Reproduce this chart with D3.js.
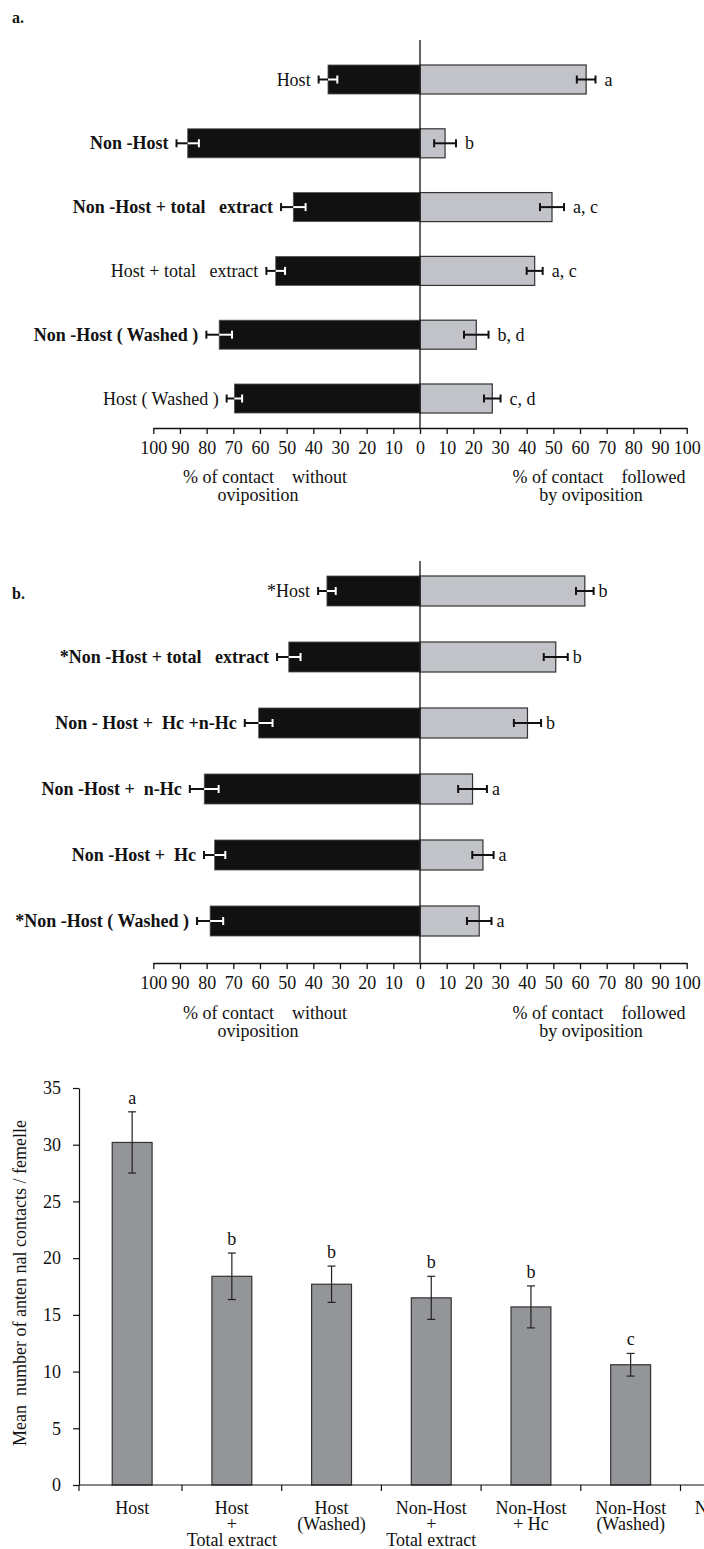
<!DOCTYPE html>
<html><head><meta charset="utf-8">
<script src="https://cdn.jsdelivr.net/npm/d3@7"></script>
<style>
body{margin:0;background:#fff;}
svg{display:block;font-family:"Liberation Serif","Times New Roman",serif;}
text{white-space:pre;}
</style></head><body>
<svg id="chart" width="704" height="1549"></svg>
<script>
// ---------- Panel a data ----------
const catsA = ["Host", "Non -Host", "Non -Host + total   extract", "Host + total   extract", "Non -Host ( Washed )", "Host ( Washed )"];
const withoutA = [34.5, 87.1, 47.5, 54.1, 75.3, 69.6];
const withoutErrA = [3.5, 4.2, 4.6, 3.5, 4.8, 2.9];
const followedA = [62.3, 9.4, 49.5, 43.0, 21.1, 27.1];
const followedErrA = [3.5, 4.1, 4.5, 3.0, 4.6, 3.1];
const lettersA = ["a", "b", "a, c", "a, c", "b, d", "c, d"];

// ---------- Panel b data ----------
const catsB = ["*Host", "*Non -Host + total   extract", "Non - Host +  Hc +n-Hc", "Non -Host +  n-Hc", "Non -Host +  Hc", "*Non -Host ( Washed )"];
const withoutB = [34.9, 49.2, 60.5, 80.9, 77.0, 78.7];
const withoutErrB = [3.3, 4.4, 5.2, 5.4, 4.0, 4.9];
const followedB = [61.8, 50.9, 40.3, 19.7, 23.6, 22.2];
const followedErrB = [3.3, 4.5, 5.1, 5.4, 4.0, 4.6];
const lettersB = ["b", "b", "b", "a", "a", "a"];

// shared axis ticks for a and b
const tickValuesLeft = [10, 20, 30, 40, 50, 60, 70, 80, 90, 100];
const tickValuesRight = [0, 10, 20, 30, 40, 50, 60, 70, 80, 90, 100];
const titleLeft = ["% of contact    without", "oviposition"];
const titleRight = ["% of contact    followed", "by oviposition"];

// ---------- Panel c data ----------
const catsC = [["Host"], ["Host", "+", "Total extract"], ["Host", "(Washed)"], ["Non-Host", "+", "Total extract"], ["Non-Host", "+ Hc"], ["Non-Host", "(Washed)"], ["Non-Host"]];
const valuesC = [30.2, 18.4, 17.7, 16.5, 15.7, 10.6, null];
const errC = [2.7, 2.05, 1.6, 1.9, 1.85, 1.0, null];
const lettersC = ["a", "b", "b", "b", "b", "c", null];
const yTicksC = [0, 5, 10, 15, 20, 25, 30, 35];
const yTitleC = "Mean  number of anten nal contacts / femelle";

const svg = d3.select("#chart");
const FS = 18;

const xL = d3.scaleLinear().domain([0, 100]).range([420, 153.3]);
const xR = d3.scaleLinear().domain([0, 100]).range([420, 686.7]);

function diverging(p) {
  const g = svg.append("g");
  const n = p.cats.length;
  const y = d3.scaleBand().domain(p.cats)
    .range([p.y0, p.y0 + p.step * n]).paddingInner(0.545).paddingOuter(0.2725);
  const rows = p.cats.map((c, i) => ({c, wo: p.without[i], woE: p.withoutErr[i], fo: p.followed[i], foE: p.followedErr[i], l: p.letters[i]}));
  const cy = d => y(d.c) + y.bandwidth() / 2;
  const capH = 8;

  // right bars
  g.selectAll(".rb").data(rows).join("rect").attr("class", "rb")
    .attr("x", xR(0)).attr("y", d => y(d.c))
    .attr("width", d => xR(d.fo) - xR(0)).attr("height", y.bandwidth())
    .attr("fill", "#c1c3c9").attr("stroke", "#333").attr("stroke-width", 1.2);
  // left bars
  g.selectAll(".lb").data(rows).join("rect").attr("class", "lb")
    .attr("x", d => xL(d.wo)).attr("y", d => y(d.c))
    .attr("width", d => xL(0) - xL(d.wo)).attr("height", y.bandwidth())
    .attr("fill", "#111").attr("stroke", "#555").attr("stroke-width", 0.8);

  // center line
  g.append("line").attr("x1", xL(0)).attr("x2", xL(0))
    .attr("y1", p.lineTop).attr("y2", p.axisY)
    .attr("stroke", "#111").attr("stroke-width", 1.3);

  // left error bars: outer half black, inner half white
  const eb = g.selectAll(".leb").data(rows).join("g").attr("class", "leb");
  eb.append("line").attr("x1", d => xL(d.wo + d.woE)).attr("x2", d => xL(d.wo))
    .attr("y1", cy).attr("y2", cy).attr("stroke", "#111").attr("stroke-width", 2);
  eb.append("line").attr("x1", d => xL(d.wo + d.woE)).attr("x2", d => xL(d.wo + d.woE))
    .attr("y1", d => cy(d) - capH / 2).attr("y2", d => cy(d) + capH / 2).attr("stroke", "#111").attr("stroke-width", 2);
  eb.append("line").attr("x1", d => xL(d.wo)).attr("x2", d => xL(d.wo - d.woE))
    .attr("y1", cy).attr("y2", cy).attr("stroke", "#fff").attr("stroke-width", 2);
  eb.append("line").attr("x1", d => xL(d.wo - d.woE)).attr("x2", d => xL(d.wo - d.woE))
    .attr("y1", d => cy(d) - capH / 2).attr("y2", d => cy(d) + capH / 2).attr("stroke", "#fff").attr("stroke-width", 2);

  // right error bars
  const rb = g.selectAll(".reb").data(rows).join("g").attr("class", "reb");
  rb.append("line").attr("x1", d => xR(d.fo - d.foE)).attr("x2", d => xR(d.fo + d.foE))
    .attr("y1", cy).attr("y2", cy).attr("stroke", "#111").attr("stroke-width", 2);
  [d => xR(d.fo - d.foE), d => xR(d.fo + d.foE)].forEach(fx => {
    rb.append("line").attr("x1", fx).attr("x2", fx)
      .attr("y1", d => cy(d) - capH / 2).attr("y2", d => cy(d) + capH / 2)
      .attr("stroke", "#111").attr("stroke-width", 2);
  });

  // category labels
  g.selectAll(".cl").data(rows).join("text").attr("class", "cl")
    .attr("x", d => xL(d.wo + d.woE) - 8).attr("y", d => cy(d) + 6)
    .attr("text-anchor", "end").attr("font-size", FS).attr("fill", "#111")
    .attr("font-weight", d => d.c.includes("Non") ? "bold" : "normal")
    .text(d => d.c);

  // letters
  g.selectAll(".lt").data(rows).join("text").attr("class", "lt")
    .attr("x", d => xR(d.fo + d.foE) + p.letterGap).attr("y", d => cy(d) + 6)
    .attr("font-size", FS).attr("fill", "#111")
    .text(d => d.l);

  // axes
  const axL = d3.axisBottom(xL).tickValues(tickValuesLeft).tickSize(6).tickSizeOuter(0).tickPadding(7);
  const axR = d3.axisBottom(xR).tickValues(tickValuesRight).tickSize(6).tickSizeOuter(0).tickPadding(7);
  [axL, axR].forEach(ax => {
    const a = g.append("g").attr("transform", `translate(0,${p.axisY})`).call(ax);
    a.selectAll("path, line").attr("stroke", "#111").attr("stroke-width", 1.3);
    a.selectAll("text").attr("font-size", FS).attr("fill", "#111")
      .attr("font-family", "Liberation Serif, Times New Roman, serif");
  });

  // axis titles
  const tl = [{t: titleLeft, x: [265, 258]}, {t: titleRight, x: [599, 591]}];
  tl.forEach(o => {
    o.t.forEach((s, i) => {
      g.append("text").attr("x", o.x[i]).attr("y", p.titleY + i * 18 + 6)
        .attr("text-anchor", "middle").attr("font-size", FS).attr("fill", "#111").text(s);
    });
  });

  // panel label
  g.append("text").attr("x", 12).attr("y", p.labelY).attr("font-size", 16)
    .attr("font-weight", "bold").attr("fill", "#111").text(p.label);
}

diverging({cats: catsA, without: withoutA, withoutErr: withoutErrA, followed: followedA, followedErr: followedErrA,
  letters: lettersA, y0: 47.6, step: 63.8, lineTop: 40, axisY: 428, titleY: 477, label: "a.", labelY: 23, letterGap: 9});
diverging({cats: catsB, without: withoutB, withoutErr: withoutErrB, followed: followedB, followedErr: followedErrB,
  letters: lettersB, y0: 558, step: 66, lineTop: 561, axisY: 963, titleY: 1013, label: "b.", labelY: 599, letterGap: 5});

// ---------- Panel c ----------
(function () {
  const g = svg.append("g");
  const x0 = 82.3, step = 99.7;
  const idx = catsC.map((d, i) => i);
  const x = d3.scaleBand().domain(idx).range([x0, x0 + step * idx.length]).paddingInner(0.6).paddingOuter(0.3);
  const y = d3.scaleLinear().domain([0, 35]).range([1485, 1088]);
  const axisX = 79;

  const rows = idx.map(i => ({i, v: valuesC[i], e: errC[i], l: lettersC[i], lab: catsC[i]})).filter(d => d.v != null);

  g.selectAll(".bar").data(rows).join("rect").attr("class", "bar")
    .attr("x", d => x(d.i)).attr("y", d => y(d.v))
    .attr("width", x.bandwidth()).attr("height", d => y(0) - y(d.v))
    .attr("fill", "#939598").attr("stroke", "#333").attr("stroke-width", 1.2);

  const cx = d => x(d.i) + x.bandwidth() / 2;
  const eb = g.selectAll(".eb").data(rows).join("g").attr("class", "eb");
  eb.append("line").attr("x1", cx).attr("x2", cx).attr("y1", d => y(d.v + d.e)).attr("y2", d => y(d.v - d.e))
    .attr("stroke", "#222").attr("stroke-width", 1.2);
  [d => y(d.v + d.e), d => y(d.v - d.e)].forEach(fy => {
    eb.append("line").attr("x1", d => cx(d) - 4).attr("x2", d => cx(d) + 4).attr("y1", fy).attr("y2", fy)
      .attr("stroke", "#222").attr("stroke-width", 1.2);
  });
  g.selectAll(".let").data(rows).join("text").attr("class", "let")
    .attr("x", cx).attr("y", d => y(d.v + d.e) - 8)
    .attr("text-anchor", "middle").attr("font-size", FS).attr("fill", "#111").text(d => d.l);

  // y axis
  const ya = g.append("g").attr("transform", `translate(${axisX},0)`)
    .call(d3.axisLeft(y).tickValues(yTicksC).tickSize(6).tickSizeOuter(0).tickPadding(12));
  ya.selectAll("path, line").attr("stroke", "#111").attr("stroke-width", 1.2);
  ya.selectAll("text").attr("font-size", FS).attr("fill", "#111")
    .attr("font-family", "Liberation Serif, Times New Roman, serif");

  // x axis line and ticks between categories
  g.append("line").attr("x1", axisX).attr("x2", 704).attr("y1", y(0)).attr("y2", y(0))
    .attr("stroke", "#111").attr("stroke-width", 1.2);
  const bounds = [axisX].concat(idx.slice(1).map(i => x0 + step * i));
  g.selectAll(".xt").data(bounds).join("line").attr("class", "xt")
    .attr("x1", d => d).attr("x2", d => d).attr("y1", y(0)).attr("y2", y(0) + 6)
    .attr("stroke", "#111").attr("stroke-width", 1.2);

  // category labels
  const labRows = idx.map(i => ({i, lab: catsC[i]}));
  const lt = g.selectAll(".cat").data(labRows).join("text").attr("class", "cat")
    .attr("text-anchor", "middle").attr("font-size", FS).attr("fill", "#111");
  lt.each(function (d) {
    const t = d3.select(this);
    const cxx = x(d.i) + x.bandwidth() / 2;
    d.lab.forEach((s, k) => {
      t.append("tspan").attr("x", cxx).attr("y", 1514 + k * 16).text(s);
    });
  });

  // y title
  g.append("text").attr("transform", "translate(26,1283) rotate(-90)")
    .attr("text-anchor", "middle").attr("font-size", FS).attr("fill", "#111").text(yTitleC);
})();
</script>
</body></html>
